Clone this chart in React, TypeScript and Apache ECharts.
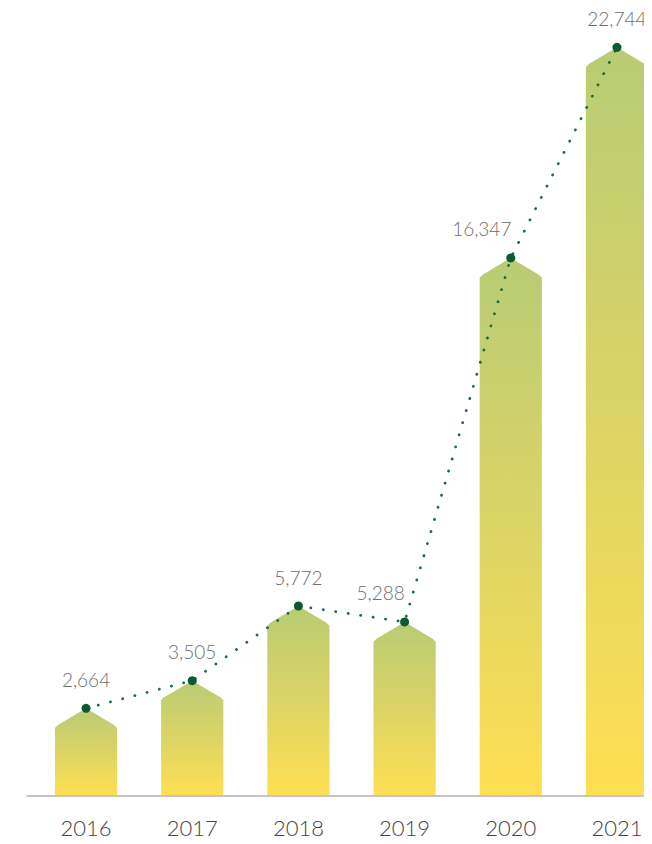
import React, { useEffect, useRef } from "react";
import * as echarts from "echarts";

const years = ["2016", "2017", "2018", "2019", "2020", "2021"];
const values = [2664, 3505, 5772, 5288, 16347, 22744];

// label nudges (style only): shift some labels left to clear the line
const LABEL_SHIFT: Record<number, number> = { 3: -24, 4: -29 };

export default function App() {
  const ref = useRef<HTMLDivElement>(null);
  useEffect(() => {
    if (!ref.current) return;
    const chart = echarts.init(ref.current, null, { renderer: "svg" });
    const pts = values.map((v, i) => [i, v]);
    const option: any = {
      animation: false,
      grid: { left: 27, right: 0, top: 6, bottom: 48 },
      xAxis: {
        type: "value",
        min: -0.556,
        max: 5.33,
        splitLine: { show: false },
        axisTick: { show: false },
        axisLine: { show: true, lineStyle: { color: "#b0b0b0", width: 1.5 } },
        axisLabel: {
          customValues: [0, 1, 2, 3, 4, 5],
          formatter: (v: number) => years[Math.round(v)] ?? "",
          color: "#444444",
          fontSize: 22,
          fontWeight: 300,
          fontFamily: "Lato, 'Open Sans', sans-serif",
          margin: 20,
        },
      },
      yAxis: {
        type: "value",
        min: 0,
        max: 24000,
        show: false,
        splitLine: { show: false },
      },
      series: [
        {
          type: "custom",
          z: 1,
          data: pts,
          renderItem: (params: any, api: any) => {
            const x = api.value(0);
            const v = api.value(1);
            const top = api.coord([x, v]);
            const base = api.coord([x, 0]);
            const unit = api.size([1, 0])[0];
            const hw = unit * 0.293;
            const drop = hw * 0.57;
            return {
              type: "polygon",
              shape: {
                points: [
                  [top[0] - hw, base[1] - 1],
                  [top[0] - hw, top[1] + drop + 2],
                  [top[0] - hw + 3, top[1] + drop - 1],
                  [top[0], top[1]],
                  [top[0] + hw - 3, top[1] + drop - 1],
                  [top[0] + hw, top[1] + drop + 2],
                  [top[0] + hw, base[1] - 1],
                ],
              },
              style: {
                fill: new echarts.graphic.LinearGradient(0, 0, 0, 1, [
                  { offset: 0, color: "#b8cc74" },
                  { offset: 0.5, color: "#dcd465" },
                  { offset: 1, color: "#ffdf52" },
                ]),
              },
            };
          },
        },
        {
          type: "line",
          z: 5,
          data: pts.map((p, i) => ({
            value: p,
            label: LABEL_SHIFT[i] !== undefined ? { offset: [LABEL_SHIFT[i], 0] } : undefined,
          })),
          symbol: "circle",
          symbolSize: 9,
          itemStyle: { color: "#0b5a33" },
          lineStyle: { color: "#1d6a44", width: 2.8, type: [0.1, 12.5], cap: "round" },
          label: {
            show: true,
            position: "top",
            distance: 15,
            formatter: (p: any) => Number(p.value[1]).toLocaleString("en-US"),
            color: "#6e6e6e",
            fontSize: 19,
            fontWeight: 300,
            fontFamily: "Lato, 'Open Sans', sans-serif",
          },
        },
      ],
    };
    chart.setOption(option);
    return () => chart.dispose();
  }, []);
  return <div ref={ref} style={{ width: 652, height: 844, margin: -8 }} />;
}
